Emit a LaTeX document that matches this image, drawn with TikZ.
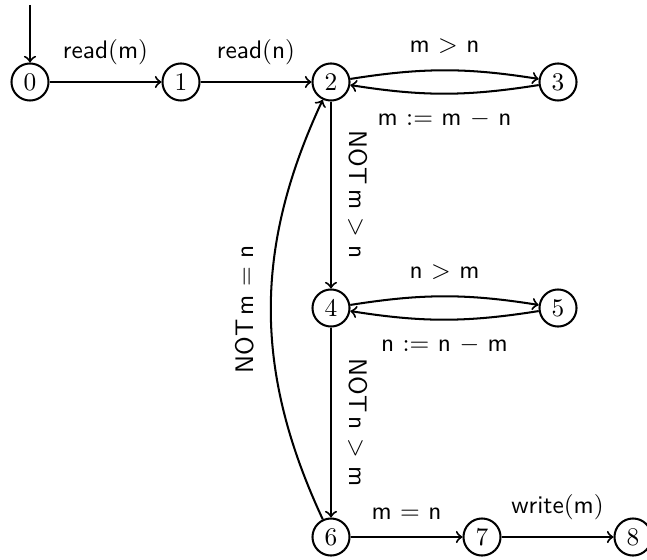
\documentclass[tikz,border=0pt]{standalone}
\usetikzlibrary{positioning}
\begin{document}
\begin{tikzpicture}[x=0.394pt,y=-0.394pt,
  state/.style={circle,draw,line width=0.8pt,minimum size=14.6pt,inner sep=0pt,font=\normalsize},
  trans/.style={->,line width=0.8pt},
  lab/.style={font=\sffamily,inner sep=3.33pt}]
\useasboundingbox (0,0) rectangle (647,559);
\node[state] (q0) at (30,82) {0};
\node[state] (q1) at (181,82) {1};
\node[state] (q2) at (331,82) {2};
\node[state] (q3) at (558,82) {3};
\node[state] (q4) at (331,308) {4};
\node[state] (q5) at (558,308) {5};
\node[state] (q6) at (331,537) {6};
\node[state] (q7) at (482,537) {7};
\node[state] (q8) at (633,537) {8};
\coordinate (s) at (30,5);
\draw[trans] (s) -- (q0);
\draw[trans] (q0) -- node[lab,above=3pt] {read$($m$)$} (q1);
\draw[trans] (q1) -- node[lab,above=3pt] {read$($n$)$} (q2);
\draw[trans] (q2) to[bend left=9] node[lab,above=3pt] {m $>$ n} (q3);
\draw[trans] (q3) to[bend left=9] node[lab,below=3pt] {m $:=$ m $-$ n} (q2);
\draw[trans] (q2) -- node[lab,sloped,above=3pt] {NOT\,m $>$ n} (q4);
\draw[trans] (q4) to[bend left=9] node[lab,above=3pt] {n $>$ m} (q5);
\draw[trans] (q5) to[bend left=9] node[lab,below=3pt] {n $:=$ n $-$ m} (q4);
\draw[trans] (q4) -- node[lab,sloped,above=3pt] {NOT\,n $>$ m} (q6);
\draw[trans] (q6) to[bend left=25] node[lab,sloped,above=3pt] {NOT\,m $=$ n} (q2);
\draw[trans] (q6) -- node[lab,above=3pt] {m $=$ n} (q7);
\draw[trans] (q7) -- node[lab,above=3pt] {write$($m$)$} (q8);
\end{tikzpicture}
\end{document}
